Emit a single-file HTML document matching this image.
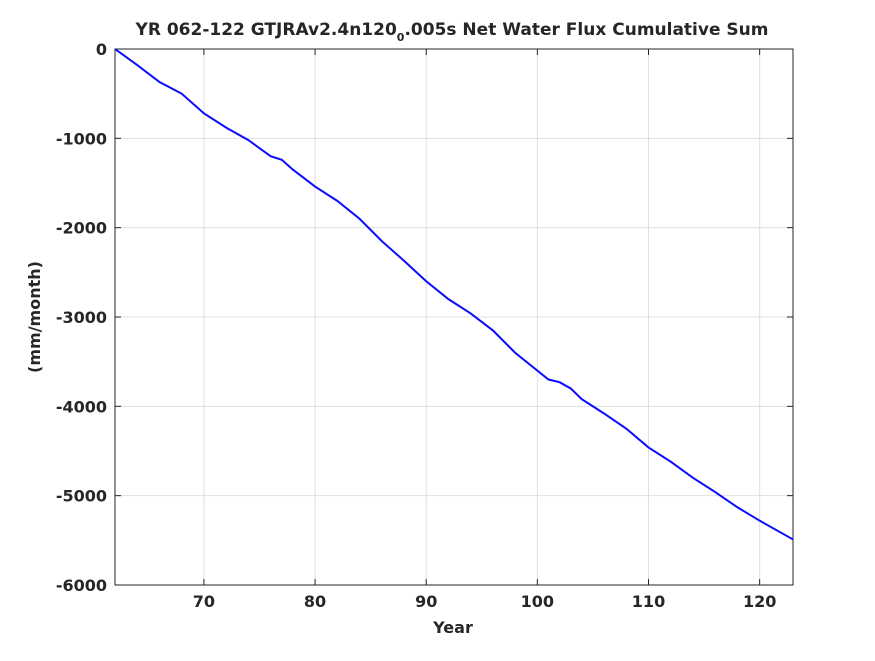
<!DOCTYPE html>
<html><head><meta charset="utf-8"><style>
body{margin:0;background:#fff;}
svg text{font-family:"DejaVu Sans","Liberation Sans",sans-serif;font-weight:bold;fill:#262626;}
</style></head><body>
<svg id="chart" width="875" height="656" xmlns="http://www.w3.org/2000/svg">
<rect width="875" height="656" fill="#fff"/>
<text x="452" y="35" font-size="17" text-anchor="middle">YR 062-122 GTJRAv2.4n120<tspan font-size="11" dy="6">0</tspan><tspan dy="-6">.005s Net Water Flux Cumulative Sum</tspan></text>
<g id="grid"></g><g id="axes"></g><g id="series"></g>
<text x="453" y="633" font-size="16" text-anchor="middle">Year</text>
<text transform="translate(40,317) rotate(-90)" font-size="16" text-anchor="middle">(mm/month)</text>
</svg>
<script>
const years=[62,64,66,68,70,72,74,76,77,78,80,82,84,86,88,90,92,94,96,98,100,101,102,103,104,106,108,110,112,114,116,118,120,122,123];
const values=[0,-180,-370,-500,-720,-880,-1020,-1200,-1240,-1350,-1540,-1700,-1900,-2150,-2370,-2600,-2800,-2960,-3150,-3400,-3600,-3700,-3730,-3800,-3920,-4080,-4250,-4460,-4620,-4800,-4960,-5130,-5280,-5420,-5490];
const xTicks=[70,80,90,100,110,120];
const yTicks=[0,-1000,-2000,-3000,-4000,-5000,-6000];
const L=115,R=793,T=49,B=585,x0=62,x1=123,y0=-6000,y1=0;
const X=v=>L+(v-x0)/(x1-x0)*(R-L);
const Y=v=>B-(v-y0)/(y1-y0)*(B-T);
const NS="http://www.w3.org/2000/svg";
function mk(tag,attrs,parent){const e=document.createElementNS(NS,tag);for(const k in attrs)e.setAttribute(k,attrs[k]);document.getElementById(parent).appendChild(e);return e;}
xTicks.forEach(t=>{
 const g=mk('line',{x1:X(t),x2:X(t),y1:T,y2:B,stroke:'#dfdfdf','stroke-width':1},'grid');
 
 
 const tk=mk('line',{x1:X(t),x2:X(t),y1:B,y2:B-6,stroke:'#262626'},'axes');
 
 
 const tk2=mk('line',{x1:X(t),x2:X(t),y1:T,y2:T+6,stroke:'#262626'},'axes');
 
 
 const tx=mk('text',{x:X(t),y:B+22,'font-size':16,'text-anchor':'middle'},'axes');tx.textContent=t;
 
 
});
yTicks.forEach(t=>{
 const g=mk('line',{x1:L,x2:R,y1:Y(t),y2:Y(t),stroke:'#dfdfdf','stroke-width':1},'grid');
 
 
 const tk=mk('line',{x1:L,x2:L+6,y1:Y(t),y2:Y(t),stroke:'#262626'},'axes');
 
 
 const tk2=mk('line',{x1:R,x2:R-6,y1:Y(t),y2:Y(t),stroke:'#262626'},'axes');
 
 
 const tx=mk('text',{x:L-8,y:Y(t)+6,'font-size':16,'text-anchor':'end'},'axes');tx.textContent=t;
 
 
});
const box=mk('rect',{x:L,y:T,width:R-L,height:B-T,fill:'none',stroke:'#262626','stroke-width':1},'axes');


const line=mk('polyline',{points:years.map((y,i)=>X(y)+','+Y(values[i])).join(' '),fill:'none',stroke:'#0a0aff','stroke-width':2},'series');


</script>
</body></html>
